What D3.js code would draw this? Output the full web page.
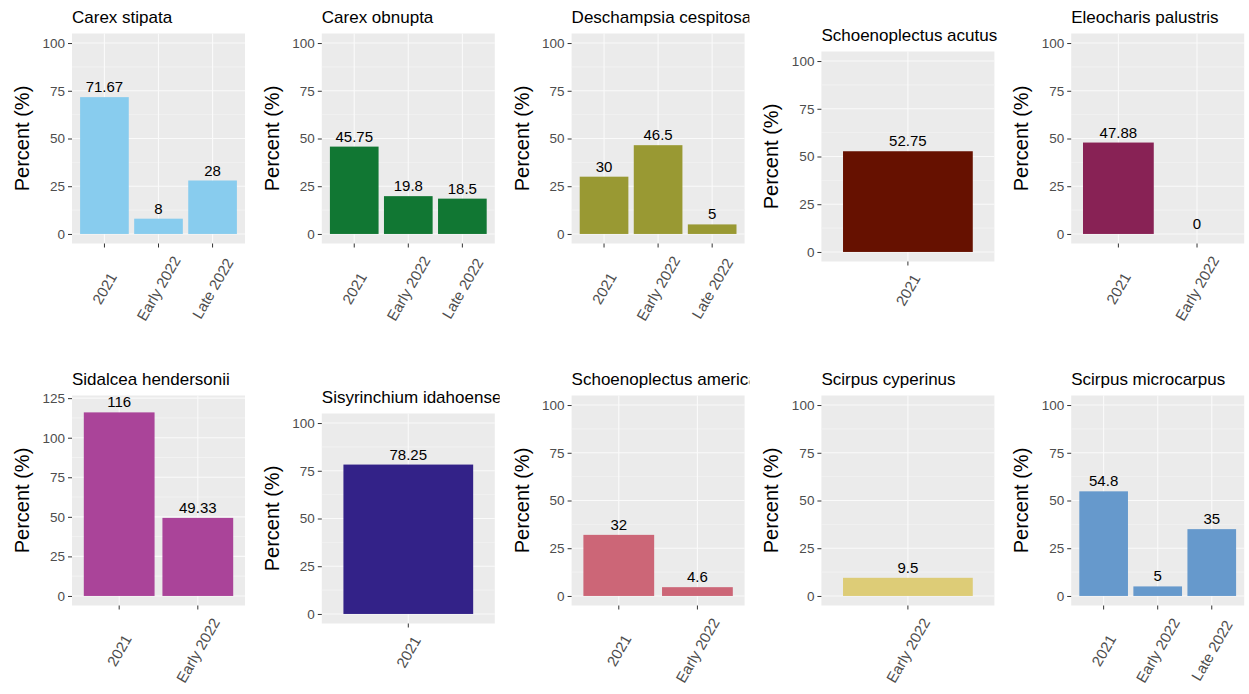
<!DOCTYPE html>
<html>
<head>
<meta charset="utf-8">
<script src="https://cdn.jsdelivr.net/npm/d3@7"></script>
<style>
  body { margin: 0; background: #ffffff; }
  svg { display: block; }
  text { font-family: "Liberation Sans", Arial, sans-serif; }
</style>
</head>
<body>
<svg id="chart" width="1249" height="694"></svg>
<script>
// Species shown, one panel each (row-major order)
const speciesNames = [
  "Carex stipata", "Carex obnupta", "Deschampsia cespitosa", "Schoenoplectus acutus", "Eleocharis palustris",
  "Sidalcea hendersonii", "Sisyrinchium idahoense", "Schoenoplectus americanus", "Scirpus cyperinus", "Scirpus microcarpus"
];

// Sampling periods present for each species
const periodLabels = [
  ["2021", "Early 2022", "Late 2022"],
  ["2021", "Early 2022", "Late 2022"],
  ["2021", "Early 2022", "Late 2022"],
  ["2021"],
  ["2021", "Early 2022"],
  ["2021", "Early 2022"],
  ["2021"],
  ["2021", "Early 2022"],
  ["Early 2022"],
  ["2021", "Early 2022", "Late 2022"]
];

// Percent values per species, aligned with periodLabels
const percentValues = [
  [71.67, 8, 28],
  [45.75, 19.8, 18.5],
  [30, 46.5, 5],
  [52.75],
  [47.88, 0],
  [116, 49.33],
  [78.25],
  [32, 4.6],
  [9.5],
  [54.8, 5, 35]
];

// Fill colour per species
const barColors = [
  "#88CCEE", "#117733", "#999933", "#661100", "#882255",
  "#AA4499", "#332288", "#CC6677", "#DDCC77", "#6699CC"
];

const yTickStep = 25;
const yLimitFloor = 100;
const yAxisTitle = "Percent (%)";

// ---- layout ----
const svg = d3.select("#chart");
const totalW = 1249, totalH = 694;
const nCols = 5;
const cellW = totalW / nCols, cellH = totalH / 2;
const panelLeft = 72, panelW = 173, panelH = 210;
const rowPanelTop = [33.5, 395.5];
const shortAxisShift = 18;
const xLabelSize = 15, xLabelAngle = 60;
const rad = xLabelAngle * Math.PI / 180;

// measure rotated label bands so the panel block can be centred
const probe = svg.append("text").attr("font-size", xLabelSize);
function textLen(s) { probe.text(s); return probe.node().getComputedTextLength(); }
const bands = periodLabels.map(labels =>
  d3.max(labels, l => textLen(l)) * Math.sin(rad) + xLabelSize * Math.cos(rad));
probe.remove();
const bandMax = d3.max(bands);

const defs = svg.append("defs");

speciesNames.forEach((name, i) => {
  const col = i % nCols, row = Math.floor(i / nCols);
  const cellX = col * cellW, cellY = row * cellH;
  const shift = bands[i] < bandMax - 1 ? shortAxisShift : 0;
  const top = rowPanelTop[row] + shift - cellY;

  defs.append("clipPath").attr("id", "cell" + i)
    .append("rect").attr("x", 0).attr("y", -cellY).attr("width", cellW).attr("height", totalH);

  const cell = svg.append("g")
    .attr("transform", `translate(${cellX},${cellY})`)
    .attr("clip-path", `url(#cell${i})`);

  const labels = periodLabels[i];
  const values = percentValues[i];
  const data = labels.map((l, k) => ({ period: l, value: values[k] }));

  const yTop = Math.max(yLimitFloor, d3.max(values) * 1.04);
  const y = d3.scaleLinear()
    .domain([-0.05 * yTop, 1.05 * yTop])
    .range([panelH, 0]);
  const x = d3.scaleBand()
    .domain(labels)
    .range([0, panelW])
    .paddingInner(0.1)
    .paddingOuter(0.15);

  const g = cell.append("g").attr("transform", `translate(${panelLeft},${top})`);

  // panel background
  g.append("rect").attr("width", panelW).attr("height", panelH).attr("fill", "#EBEBEB");

  const majors = d3.range(0, 1.05 * yTop + 1e-9, yTickStep);
  const minors = d3.range(yTickStep / 2, 1.05 * yTop, yTickStep);

  g.append("g").selectAll("line").data(minors).join("line")
    .attr("x1", 0).attr("x2", panelW)
    .attr("y1", d => y(d)).attr("y2", d => y(d))
    .attr("stroke", "#F7F7F7").attr("stroke-width", 0.6);
  g.append("g").selectAll("line").data(majors).join("line")
    .attr("x1", 0).attr("x2", panelW)
    .attr("y1", d => y(d)).attr("y2", d => y(d))
    .attr("stroke", "#FAFAFA").attr("stroke-width", 1.1);
  g.append("g").selectAll("line").data(labels).join("line")
    .attr("x1", d => x(d) + x.bandwidth() / 2).attr("x2", d => x(d) + x.bandwidth() / 2)
    .attr("y1", 0).attr("y2", panelH)
    .attr("stroke", "#FAFAFA").attr("stroke-width", 1.1);

  // bars
  g.append("g").selectAll("rect").data(data).join("rect")
    .attr("x", d => x(d.period))
    .attr("width", x.bandwidth())
    .attr("y", d => y(d.value))
    .attr("height", d => y(0) - y(d.value))
    .attr("fill", barColors[i]);

  // value labels
  g.append("g").selectAll("text").data(data).join("text")
    .attr("x", d => x(d.period) + x.bandwidth() / 2)
    .attr("y", d => y(d.value) - 5)
    .attr("text-anchor", "middle")
    .attr("font-size", 15)
    .attr("fill", "#000000")
    .text(d => String(d.value));

  // y axis
  const yAxis = g.append("g")
    .call(d3.axisLeft(y).tickValues(majors).tickSize(4).tickPadding(3).tickFormat(d3.format("d")));
  yAxis.select(".domain").remove();
  yAxis.selectAll(".tick line").attr("stroke", "#333333").attr("stroke-width", 1);
  yAxis.selectAll(".tick text").attr("fill", "#4D4D4D").attr("font-size", 13.5)
    .attr("font-family", "Liberation Sans, Arial, sans-serif");

  // x axis
  const xAxis = g.append("g").attr("transform", `translate(0,${panelH})`)
    .call(d3.axisBottom(x).tickSize(4).tickFormat(d => d));
  xAxis.select(".domain").remove();
  xAxis.selectAll(".tick line").attr("stroke", "#333333").attr("stroke-width", 1);
  const labelCenter = 10 + bands[i] / 2;
  xAxis.selectAll(".tick text")
    .attr("fill", "#4D4D4D")
    .attr("font-size", xLabelSize)
    .attr("font-family", "Liberation Sans, Arial, sans-serif")
    .attr("y", null).attr("dy", null)
    .attr("text-anchor", "middle")
    .attr("dominant-baseline", "central")
    .attr("transform", `translate(0,${labelCenter}) rotate(${-xLabelAngle})`);

  // y axis title
  g.append("text")
    .attr("transform", `translate(${-panelLeft + 29},${panelH / 2}) rotate(-90)`)
    .attr("text-anchor", "middle")
    .attr("font-size", 20)
    .attr("fill", "#000000")
    .text(yAxisTitle);

  // panel title
  g.append("text")
    .attr("x", 0).attr("y", -10.5)
    .attr("font-size", 17)
    .attr("fill", "#000000")
    .text(name);
});
</script>
</body>
</html>
